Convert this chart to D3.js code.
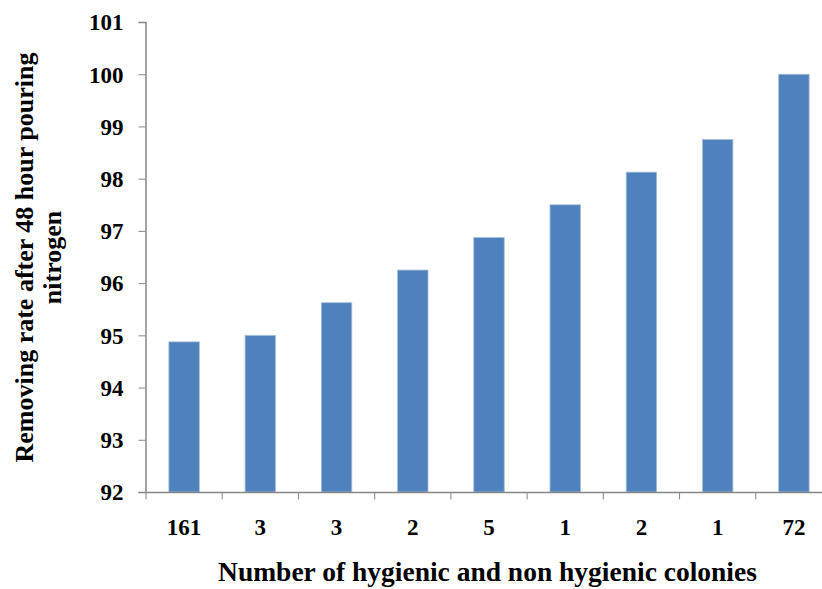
<!DOCTYPE html>
<html><head><meta charset="utf-8">
<script src="https://cdn.jsdelivr.net/npm/d3@7"></script>
<style>body{margin:0;background:#fff}svg{display:block}
svg text{font-family:"Liberation Serif","DejaVu Serif",serif;font-weight:bold;fill:#000}</style>
</head><body>
<svg id="c" width="822" height="589"></svg>
<script>
const categories = ["161","3","3","2","5","1","2","1","72"];
const values = [94.875, 95, 95.625, 96.25, 96.875, 97.5, 98.125, 98.75, 100];
const yTicks = [92,93,94,95,96,97,98,99,100,101];
const xTitle = "Number of hygienic and non hygienic colonies";
const yTitle = ["Removing rate after 48 hour pouring", "nitrogen"];

const svg = d3.select("#c");
const x = d3.scaleBand().domain(categories.map((d,i)=>i)).range([146, 832]).paddingInner(0.6).paddingOuter(0.3);
const y = d3.scaleLinear().domain([92,101]).range([492, 22]);

svg.selectAll("rect.bar").data(values).join("rect")
  .attr("class","bar")
  .attr("x",(d,i)=>x(i)).attr("width",x.bandwidth())
  .attr("y",d=>y(d)).attr("height",d=>y(92)-y(d))
  .attr("fill","#4F81BD").attr("stroke","#A7C0DE").attr("stroke-width",0.8);

// y axis
const ya = svg.append("g").attr("transform","translate(145.5,0)")
  .call(d3.axisLeft(y).tickValues(yTicks).tickSize(7).tickPadding(15).tickFormat(d3.format("d")));
ya.attr("font-family",null).attr("font-size",null);
ya.select(".domain").attr("stroke","#868686").attr("stroke-width",1.5);
ya.selectAll(".tick line").attr("stroke","#868686");
ya.selectAll("text").style("font-size","23px").attr("dy","0.34em").attr("fill","#000");

// x axis
const step = x.step();
const xa = svg.append("g").attr("transform","translate(0,492.5)");
xa.append("line").attr("x1",146).attr("x2",832).attr("stroke","#868686").attr("stroke-width",1.5);
xa.selectAll("line.t").data(d3.range(categories.length+1)).join("line").attr("class","t")
  .attr("x1",i=>146+i*step).attr("x2",i=>146+i*step).attr("y1",0).attr("y2",7).attr("stroke","#868686");
xa.selectAll("text").data(categories).join("text")
  .attr("x",(d,i)=>x(i)+x.bandwidth()/2).attr("y",42.5)
  .attr("text-anchor","middle").style("font-size","23px")
  .text(d=>d);

svg.append("text").attr("x",487.5).attr("y",581).attr("text-anchor","middle")
  .style("font-size","27.5px").text(xTitle);

const yt = svg.append("text").attr("transform","translate(0,257.5) rotate(-90)")
  .attr("text-anchor","middle").style("font-size","26px");
yt.selectAll("tspan").data(yTitle).join("tspan").attr("x",0).attr("y",(d,i)=>33+i*28).text(d=>d);
</script>
</body></html>
